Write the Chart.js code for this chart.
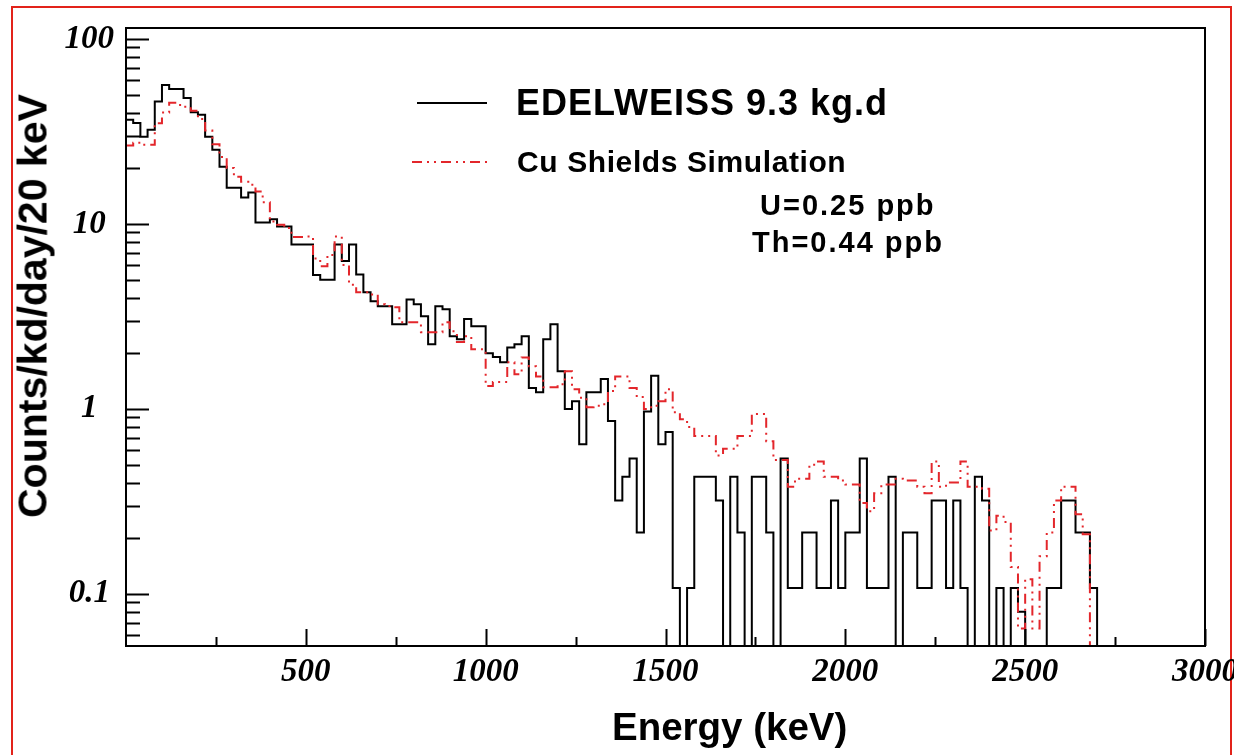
<!DOCTYPE html>
<html>
<head>
<meta charset="utf-8">
<script src="https://cdn.jsdelivr.net/npm/chart.js@4/dist/chart.umd.min.js"></script>
<style>
  body { margin: 0; background: #fff; }
  #wrap { position: relative; width: 1234px; height: 755px; overflow: hidden; }
  #outer { position: absolute; left: 11px; top: 6px; width: 1217px; height: 800px; border: 2px solid #e2231a; }
  canvas { position: absolute; left: 0; top: 0; }
  .txt { position: absolute; font-family: 'Liberation Sans', Arial, sans-serif; font-weight: bold; color: #000; white-space: nowrap; line-height: 1; }
  #ytitle { left: 33px; top: 306px; font-size: 41px; transform: translate(-50%, -50%) rotate(-90deg); }
  #xtitle { left: 612px; top: 708px; font-size: 38.5px; }
  #leg1 { left: 516px; top: 85px; font-size: 36px; letter-spacing: 1px; }
  #leg2 { left: 517px; top: 147px; font-size: 30px; letter-spacing: 0.6px; }
  #note1 { left: 760px; top: 191px; font-size: 29px; letter-spacing: 2px; }
  #note2 { left: 752px; top: 228px; font-size: 29px; letter-spacing: 2px; }
  #sample1 { position: absolute; left: 417px; top: 102px; width: 70px; border-top: 2px solid #000; }
  #sample2 { position: absolute; left: 410px; top: 156px; }
</style>
</head>
<body>
<div id="wrap">
  <div id="outer"></div>
  <canvas id="spectrum" width="1234" height="755"></canvas>
  <div class="txt" id="ytitle">Counts/kd/day/20 keV</div>
  <div class="txt" id="xtitle">Energy (keV)</div>
  <div id="sample1"></div>
  <svg id="sample2" width="80" height="12"><line x1="2" y1="6" x2="78" y2="6" stroke="#e3262b" stroke-width="2" stroke-dasharray="10 5 2 5 2 5"/></svg>
  <div class="txt" id="leg1">EDELWEISS 9.3 kg.d</div>
  <div class="txt" id="leg2">Cu Shields Simulation</div>
  <div class="txt" id="note1">U=0.25 ppb</div>
  <div class="txt" id="note2">Th=0.44 ppb</div>
</div>
<script>
// 20 keV bins starting at 0 keV
const binWidth = 20;

// measured spectrum, counts/kd/day/20 keV (0 = empty bin)
const dataCounts = [
  36.6, 35.2, 29.6, 32.3, 46, 56.4, 53.7, 53.7, 48, 40.2,
  38.9, 29.6, 25.2, 20.4, 15.7, 15.7, 13.9, 14.8, 10.2, 10.2,
  10.6, 9.7, 9.7, 7.75, 7.75, 7.75, 5.3, 5.0, 5.0, 7.75,
  6.3, 7.75, 5.34, 4.27, 3.82, 3.59, 3.59, 2.87, 2.87, 3.91,
  3.68, 3.17, 2.24, 3.59, 3.46, 2.47, 2.38, 3.06, 2.80, 2.80,
  2.0, 1.91, 1.79, 2.15, 2.24, 2.47, 1.3, 1.23, 2.38, 2.87,
  1.60, 1.0, 1.10, 0.645, 1.23, 1.23, 1.45, 0.86, 0.32, 0.43,
  0.54, 0.215, 0.97, 1.51, 0.645, 0.75, 0.1075, 0, 0.1075, 0.43,
  0.43, 0.43, 0.32, 0, 0.43, 0.215, 0, 0.43, 0.43, 0.215,
  0, 0.54, 0.1075, 0.1075, 0.215, 0.215, 0.1075, 0.1075, 0.32, 0.1075,
  0.215, 0.215, 0.54, 0.1075, 0.1075, 0.1075, 0.43, 0, 0.215, 0.215,
  0.1075, 0.1075, 0.32, 0.32, 0.1075, 0.32, 0.1075, 0, 0.43, 0.32,
  0, 0.1075, 0, 0.1075, 0.08, 0, 0, 0, 0.1075, 0.1075,
  0.32, 0.32, 0.215, 0.215, 0.1075, 0
];

// Cu shields simulation (U 0.25 ppb, Th 0.44 ppb)
const simCounts = [
  26.6, 27.5, 26.8, 26.8, 35, 40, 45.2, 44, 43, 41,
  37, 32, 27, 23, 20.1, 18, 16.9, 16.3, 15, 13.1,
  10.3, 9.9, 9.5, 8.5, 8.5, 8.55, 6.5, 5.9, 6.8, 8.55,
  6.0, 4.7, 4.27, 4.27, 4.16, 3.68, 3.6, 3.55, 2.94, 2.94,
  2.94, 2.6, 2.6, 2.6, 2.94, 2.63, 2.30, 2.47, 2.1, 2.1,
  1.33, 1.4, 1.4, 1.79, 1.54, 1.9, 1.70, 1.5, 1.31, 1.31,
  1.36, 1.6, 1.28, 1.15, 1.02, 1.04, 1.06, 1.25, 1.5, 1.5,
  1.3, 1.16, 1.0, 1.04, 1.1, 1.28, 0.96, 0.88, 0.80, 0.715,
  0.715, 0.715, 0.56, 0.61, 0.61, 0.715, 0.715, 0.94, 0.94, 0.67,
  0.53, 0.53, 0.38, 0.42, 0.42, 0.50, 0.52, 0.43, 0.43, 0.41,
  0.39, 0.39, 0.31, 0.28, 0.35, 0.39, 0.39, 0.42, 0.41, 0.41,
  0.38, 0.35, 0.52, 0.38, 0.40, 0.40, 0.52, 0.38, 0.38, 0.37,
  0.22, 0.265, 0.245, 0.14, 0.065, 0.12, 0.065, 0.16, 0.215, 0.32,
  0.38, 0.38, 0.27, 0.21, 0
];

const xTicks = [500, 1000, 1500, 2000, 2500, 3000];
const xMinorTicks = [250, 750, 1250, 1750, 2250, 2750];
const yTicks = [0.1, 1, 10, 100];
const yTickLabels = ['0.1', '1', '10', '100'];

const xRange = [0, 3000];
const yRange = [0.0523, 114.7];

// empty bins are pushed below the axis so the outline drops out of view
const emptyLevel = 0.01;

function toSteps(values) {
    const pts = values.map((v, i) => ({ x: i * binWidth, y: v > 0 ? v : emptyLevel }));
    pts.push({ x: values.length * binWidth, y: emptyLevel });
    return pts;
}

// frame and inward ticks, ROOT style
const framePlugin = {
    id: 'frame',
    afterDatasetsDraw(chart) {
        const { ctx, chartArea: a, scales: { x, y } } = chart;
        ctx.save();
        ctx.strokeStyle = '#000';
        ctx.lineWidth = 2;
        ctx.strokeRect(a.left, a.top, a.right - a.left, a.bottom - a.top);

        ctx.beginPath();
        xTicks.forEach(v => {
            const px = Math.round(x.getPixelForValue(v)) + 0.5;
            ctx.moveTo(px, a.bottom);
            ctx.lineTo(px, a.bottom - 17);
        });
        xMinorTicks.forEach(v => {
            const px = Math.round(x.getPixelForValue(v)) + 0.5;
            ctx.moveTo(px, a.bottom);
            ctx.lineTo(px, a.bottom - 9);
        });
        [0.01, 0.1, 1, 10].forEach(dec => {
            for (let m = 1; m <= 9; m++) {
                const v = m * dec;
                if (v < yRange[0] || v > yRange[1]) continue;
                const py = Math.round(y.getPixelForValue(v)) + 0.5;
                const len = m === 1 ? 23 : 14;
                ctx.moveTo(a.left, py);
                ctx.lineTo(a.left + len, py);
            }
        });
        const top = Math.round(y.getPixelForValue(100)) + 0.5;
        ctx.moveTo(a.left, top);
        ctx.lineTo(a.left + 23, top);
        ctx.stroke();
        ctx.restore();
    }
};

const tickFont = { family: "'Liberation Serif', 'Times New Roman', serif", size: 33, style: 'italic', weight: 'bold' };

new Chart(document.getElementById('spectrum'), {
    type: 'line',
    data: {
        datasets: [
            {
                label: 'EDELWEISS 9.3 kg.d',
                data: toSteps(dataCounts),
                borderColor: '#000',
                borderWidth: 2,
                stepped: 'before',
                pointRadius: 0,
                fill: false,
                order: 1
            },
            {
                label: 'Cu Shields Simulation',
                data: toSteps(simCounts),
                borderColor: '#e3262b',
                borderWidth: 2,
                borderDash: [10, 5, 2, 5, 2, 5],
                stepped: 'before',
                pointRadius: 0,
                fill: false,
                order: 0
            }
        ]
    },
    options: {
        responsive: false,
        animation: false,
        devicePixelRatio: 1,
        layout: { padding: { top: 28, right: 29, bottom: 0, left: 0 } },
        plugins: { legend: { display: false }, tooltip: { enabled: false } },
        scales: {
            x: {
                type: 'linear',
                min: xRange[0],
                max: xRange[1],
                grid: { display: false, drawTicks: false },
                border: { display: false },
                afterBuildTicks: s => { s.ticks = xTicks.map(v => ({ value: v })); },
                afterFit: s => { s.height = 109; s.paddingLeft = 0; s.paddingRight = 0; },
                ticks: { font: tickFont, color: '#000', padding: 7, maxRotation: 0, autoSkip: false, callback: v => String(v) }
            },
            y: {
                type: 'logarithmic',
                min: yRange[0],
                max: yRange[1],
                grid: { display: false, drawTicks: false },
                border: { display: false },
                afterBuildTicks: s => { s.ticks = yTicks.map(v => ({ value: v })); },
                afterFit: s => { s.width = 126; s.paddingTop = 0; s.paddingBottom = 0; },
                ticks: {
                    font: tickFont, color: '#000', padding: 12, crossAlign: 'center', autoSkip: false,
                    callback: (v, i) => yTickLabels[i]
                }
            }
        }
    },
    plugins: [framePlugin]
});
</script>
</body>
</html>
